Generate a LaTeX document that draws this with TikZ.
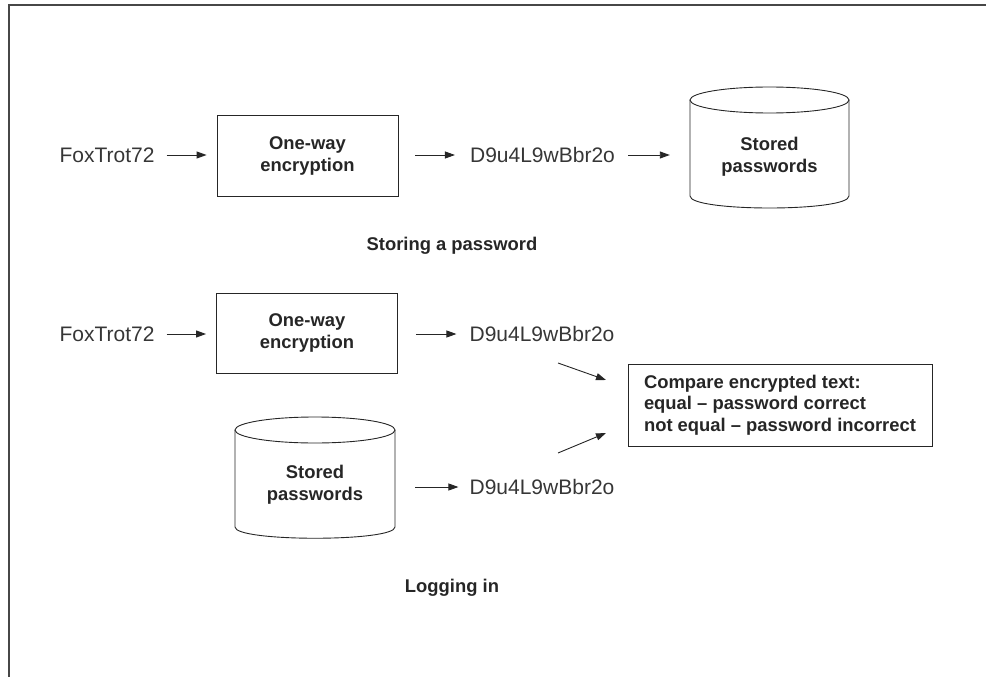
\documentclass[tikz,border=0pt]{standalone}
\usepackage{fontspec}
\setmainfont{Liberation Sans}
\usetikzlibrary{arrows.meta}
\definecolor{ink}{HTML}{262626}
\definecolor{codeink}{HTML}{363636}
\begin{document}
\begin{tikzpicture}[x=1pt,y=-1pt,
  lbl/.style={font=\fontsize{18.4}{22}\selectfont\bfseries, align=center, text=ink},
  code/.style={font=\fontsize{21}{25}\selectfont, inner sep=0pt, text=codeink},
  procbox/.style={draw=ink, line width=0.9pt, lbl, minimum width=181pt, minimum height=81pt, inner sep=0pt},
  cmpbox/.style={draw=ink, line width=0.9pt, font=\fontsize{18.4}{21.5}\selectfont\bfseries, text=ink, align=left, minimum width=304pt, minimum height=82pt, inner sep=0pt},
  flow/.style={draw=ink, line width=0.9pt, -{Triangle[length=10pt,width=7pt]}},
  dbline/.style={draw=ink, line width=0.9pt},
  frame/.style={draw=ink!85, line width=1.3pt},
]
\useasboundingbox (0,0) rectangle (986,677);
\draw[frame] (986,5) -- (9,5) -- (9,677);

% ---------- storing ----------
\node[code] (fox1) at (107,155) {FoxTrot72};
\node[procbox] (enc1) at (307.5,156) {One-way\\encryption};
\node[code] (hash1) at (542.5,155) {D9u4L9wBbr2o};
\node[lbl, minimum width=159pt, inner sep=0pt] (db1) at (769.5,157) {Stored\\passwords};
\draw[dbline] (769.5,100) ellipse [x radius=79.5, y radius=13];
\draw[dbline] (690,100) -- (690,196) .. controls (690,212) and (849,212) .. (849,196) -- (849,100);

\draw[flow, shorten <=12pt, shorten >=10pt] (fox1.east) -- (fox1.east -| enc1.west);
\draw[flow, shorten <=17pt, shorten >=15pt] (hash1.west -| enc1.east) -- (hash1.west);
\draw[flow, shorten <=13pt, shorten >=20pt] (hash1.east) -- (hash1.east -| db1.west);

\node[lbl] (cap1) at (452,246) {Storing a password};

% ---------- logging in ----------
\node[code] (fox2) at (107,334) {FoxTrot72};
\node[procbox, minimum height=80pt] (enc2) at (307,333) {One-way\\encryption};
\node[code] (hash2) at (542,334) {D9u4L9wBbr2o};

\node[lbl, minimum width=160pt, inner sep=0pt] (db2) at (315,485) {Stored\\passwords};
\draw[dbline] (315,430) ellipse [x radius=80, y radius=13];
\draw[dbline] (235,430) -- (235,527) .. controls (235,542) and (395,542) .. (395,527) -- (395,430);

\node[code] (hash3) at (542,487) {D9u4L9wBbr2o};

\node[cmpbox] (cmp) at (780,405) {Compare encrypted text:\\equal -- password correct\\not equal -- password incorrect};

\draw[flow, shorten <=12pt, shorten >=10pt] (fox2.east) -- (fox2.east -| enc2.west);
\draw[flow, shorten <=18pt, shorten >=13pt] (hash2.west -| enc2.east) -- (hash2.west);
\draw[flow, shorten <=20pt, shorten >=11pt] (hash3.west -| db2.east) -- (hash3.west);

\coordinate (t1s) at (558,363);
\coordinate (t1e) at (606,380);
\coordinate (t2s) at (558,453);
\coordinate (t2e) at (606,433);
\draw[flow] (t1s) -- (t1e);
\draw[flow] (t2s) -- (t2e);

\node[lbl] (cap2) at (452,588) {Logging in};
\end{tikzpicture}
\end{document}
